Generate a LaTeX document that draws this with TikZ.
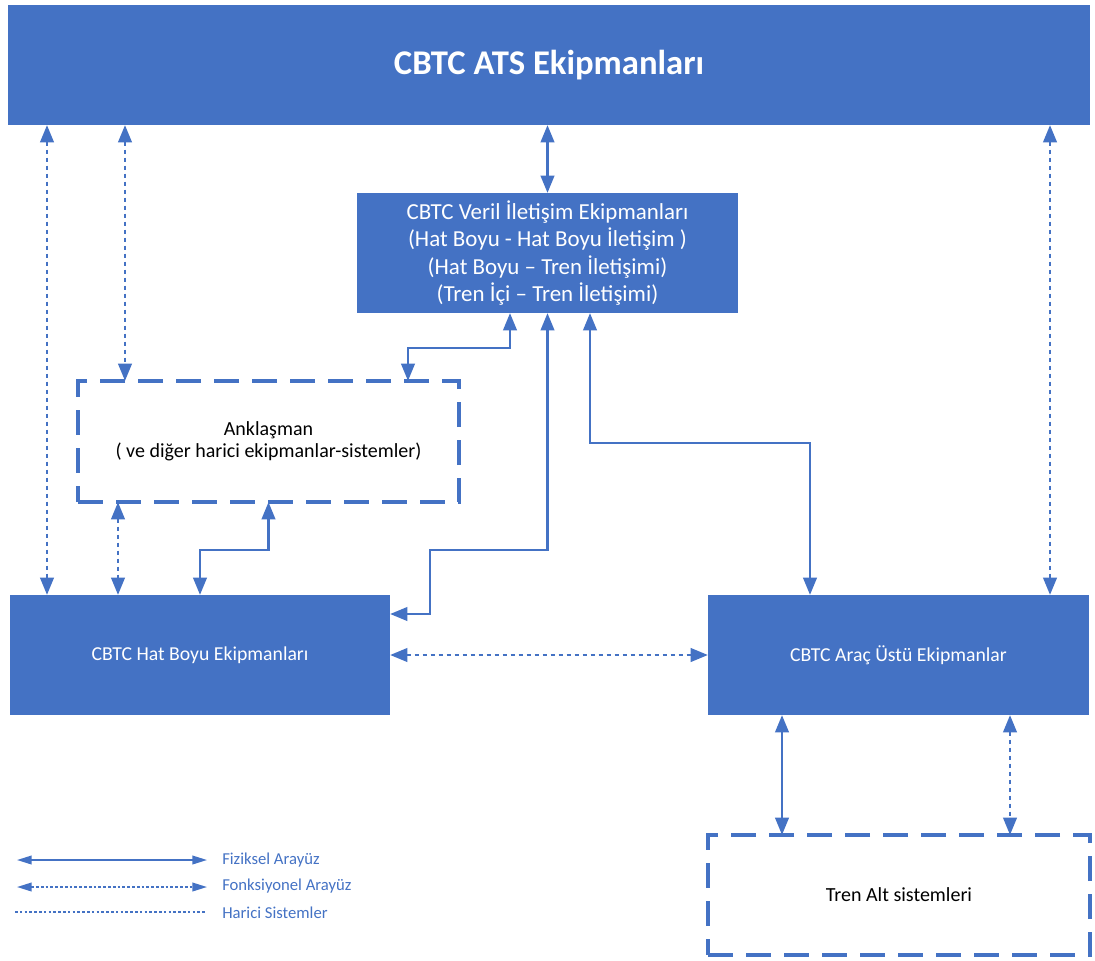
\documentclass[tikz,border=0pt]{standalone}
\usepackage{fontspec}
\setmainfont{Carlito}
\usetikzlibrary{arrows.meta}
\newdimen\pxu \pxu=0.75pt
\definecolor{blu}{HTML}{4472C4}
\tikzset{
  solidbox/.style={fill=blu, text=white, inner sep=0pt, outer sep=0pt, align=center},
  dashbox/.style={draw=blu, line width=2.4pt, dash pattern=on 19pt off 9.5pt, inner sep=0pt, outer sep=0pt, align=center, text=black, font=\fontsize{15}{16.5}\selectfont},
  tip/.tip={Triangle[length=13pt,width=10pt]},
  phys/.style={draw=blu, line width=2.2pt, {tip}-{tip}},
  func/.style={draw=blu, line width=2.2pt, dash pattern=on 3pt off 3pt, {tip}-{tip}},
  legtip/.tip={Triangle[length=11pt,width=6.5pt]},
  legphys/.style={draw=blu, line width=1.3pt, {legtip}-{legtip}},
  legfunc/.style={draw=blu, line width=1.3pt, dash pattern=on 2pt off 1.6pt, {legtip}-{legtip}},
  legext/.style={draw=blu, line width=1.3pt, dash pattern=on 2pt off 1.6pt},
  legtext/.style={text=blu, anchor=west, inner sep=0pt, font=\fontsize{12.5}{14}\selectfont},
}
\begin{document}
\begin{tikzpicture}[x=0.75pt, y=-0.75pt]
\useasboundingbox (0,0) rectangle (1095,960);

% main equipment blocks
\node[solidbox, minimum width=1082\pxu, minimum height=120\pxu, font=\bfseries\fontsize{26}{30}\selectfont] (ats) at (549,65) {CBTC ATS Ekipmanları};
\node[solidbox, minimum width=381\pxu, minimum height=120\pxu, font=\fontsize{17.2}{20.4}\selectfont] (veri) at (547.5,253)
  {CBTC Veril İletişim Ekipmanları\\(Hat Boyu - Hat Boyu İletişim )\\(Hat Boyu – Tren İletişimi)\\(Tren İçi – Tren İletişimi)};
\node[dashbox, minimum width=381\pxu, minimum height=121\pxu] (ank) at (268.5,441.5)
  {Anklaşman\\( ve diğer harici ekipmanlar-sistemler)};
\node[solidbox, minimum width=380\pxu, minimum height=120\pxu, font=\fontsize{14.8}{16}\selectfont] (hat) at (200,655) {CBTC Hat Boyu Ekipmanları};
\node[solidbox, minimum width=381\pxu, minimum height=120\pxu, font=\fontsize{14.8}{16}\selectfont] (arac) at (898.5,655) {CBTC Araç Üstü Ekipmanlar};
\node[dashbox, minimum width=382\pxu, minimum height=120\pxu] (tren) at (899,895) {Tren Alt sistemleri};

% helper points for vertical runs and elbows
\coordinate (xa) at (47,0);
\coordinate (xb) at (125,0);
\coordinate (xc) at (1050,0);
\coordinate (xd) at (118,0);
\coordinate (xe) at (782,0);
\coordinate (xf) at (1010,0);
\coordinate (k1a) at (510,348);
\coordinate (k1b) at (408,348);
\coordinate (k2a) at (547.5,550);
\coordinate (k2b) at (430,550);
\coordinate (k2c) at (430,614);
\coordinate (k3a) at (590,443);
\coordinate (k3b) at (810,443);
\coordinate (k4a) at (268.5,550);
\coordinate (k4b) at (200,550);

% ATS links
\draw[phys] (ats.south -| veri.north) -- (veri.north);
\draw[func] (ats.south -| xa) -- (hat.north -| xa);
\draw[func] (ats.south -| xb) -- (ank.north -| xb);
\draw[func] (ats.south -| xc) -- (arac.north -| xc);

% data communication links
\draw[phys] (veri.south -| k1a) -- (k1a) -- (k1b) -- (ank.north -| k1b);
\draw[phys] (veri.south) -- (k2a) -- (k2b) -- (k2c) -- (hat.east |- k2c);
\draw[phys] (veri.south -| k3a) -- (k3a) -- (k3b) -- (arac.north -| k3b);

% interlocking to wayside
\draw[func] (ank.south -| xd) -- (hat.north -| xd);
\draw[phys] (ank.south) -- (k4a) -- (k4b) -- (hat.north);

% wayside to onboard
\draw[func] (hat.east) -- (arac.west);

% onboard to train subsystems
\draw[phys] (arac.south -| xe) -- (tren.north -| xe);
\draw[func] (arac.south -| xf) -- (tren.north -| xf);

% legend
\coordinate (l1a) at (17,860);
\coordinate (l1b) at (207,860);
\coordinate (l2a) at (17,887);
\coordinate (l2b) at (207,887);
\coordinate (l3a) at (15,912);
\coordinate (l3b) at (205,912);
\draw[legphys] (l1a) -- (l1b);
\draw[legfunc] (l2a) -- (l2b);
\draw[legext] (l3a) -- (l3b);
\node[legtext] (t1) at (222,860) {Fiziksel Arayüz};
\node[legtext] (t2) at (222,886) {Fonksiyonel Arayüz};
\node[legtext] (t3) at (222,913) {Harici Sistemler};
\end{tikzpicture}
\end{document}
